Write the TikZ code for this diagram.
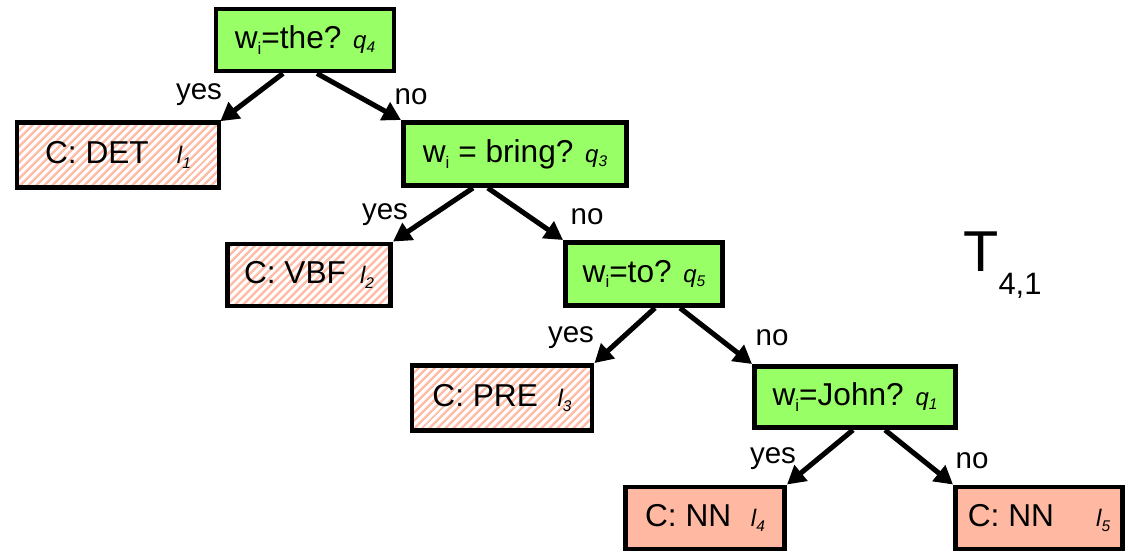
\documentclass[tikz,border=0pt]{standalone}
\usepackage{fontspec}
\setmainfont{Liberation Sans}
\usepackage{tikz}
\usetikzlibrary{positioning,calc}
\usetikzlibrary{arrows.meta,patterns.meta}

\definecolor{testgreen}{RGB}{153,255,102}
\definecolor{leafpink}{RGB}{255,184,162}
\definecolor{hatchpink}{RGB}{255,190,170}

\tikzset{
  test/.style={draw, line width=3.5pt, fill=testgreen, inner sep=0pt,
    font=\fontsize{22.5}{26}\selectfont},
  leaf/.style={draw, line width=3.5pt, inner sep=0pt,
    pattern={Lines[angle=45,distance=4pt,line width=1.8pt]}, pattern color=hatchpink,
    font=\fontsize{22.5}{26}\selectfont},
  leafnn/.style={draw, line width=3.5pt, fill=leafpink, inner sep=0pt,
    font=\fontsize{22.5}{26}\selectfont},
  branch/.style={line width=3.6pt, -{Triangle[length=13pt,width=14pt]}},
  answer/.style={font=\fontsize{21}{24}\selectfont}
}

\begin{document}
\begin{tikzpicture}[x=0.025cm, y=-0.025cm]
  \useasboundingbox (0,0) rectangle (1128,556);

  % small subscripts for the questions and the leaves
  \newcommand{\wsub}{w\raisebox{-0.35ex}{\fontsize{12}{12}\selectfont i}}
  \newcommand{\qsub}[1]{{\itshape\fontsize{17}{17}\selectfont q\raisebox{-0.35ex}{\fontsize{11}{11}\selectfont #1}}}
  \newcommand{\lsub}[1]{{\itshape\fontsize{17}{17}\selectfont l\raisebox{-0.35ex}{\fontsize{11}{11}\selectfont #1}}}

  % Questions
  \node[test, minimum width=4.45cm, minimum height=1.55cm] (q4) at (305,40) {\wsub=the? \qsub{4}};
  \node[test, minimum width=5.575cm, minimum height=1.575cm] (q3) at (515,154) {\wsub{} = bring? \qsub{3}};
  \node[test, minimum width=3.925cm, minimum height=1.575cm] (q5) at (644,274) {\wsub=to? \qsub{5}};
  \node[test, minimum width=5.025cm, minimum height=1.525cm] (q1) at (855,397) {\wsub=John? \qsub{1}};

  % Leaves
  \node[leaf, minimum width=5.05cm, minimum height=1.625cm] (l1) at (118,155) {C: DET\hspace{20pt}\lsub{1}};
  \node[leaf, minimum width=4.075cm, minimum height=1.55cm] (l2) at (309,275) {C: VBF\hspace{10pt}\lsub{2}};
  \node[leaf, minimum width=4.5cm, minimum height=1.625cm] (l3) at (502,398) {C: PRE\hspace{14pt}\lsub{3}};
  \node[leafnn, minimum width=3.975cm, minimum height=1.55cm] (l4) at (705,518) {C: NN\hspace{14pt}\lsub{4}};
  \node[leafnn, minimum width=4.175cm, minimum height=1.55cm] (l5) at (1039,518) {C: NN\hspace{30pt}\lsub{5}};

  % Branches
  \draw[branch] ([xshift=-0.55cm]q4.south) -- (l1.north east);
  \draw[branch] ([xshift=0.3cm]q4.south) -- (q3.north west);
  \draw[branch] ([xshift=-1.05cm]q3.south) -- (l2.north east);
  \draw[branch] ([xshift=-0.68cm]q3.south) -- (q5.north west);
  \draw[branch] ([xshift=0.275cm]q5.south) -- (l3.north east);
  \draw[branch] ([xshift=0.9cm]q5.south) -- (q1.north west);
  \draw[branch] ([xshift=-0.05cm]q1.south) -- (l4.north east);
  \draw[branch] ([xshift=0.75cm]q1.south) -- (l5.north west);

  % Labels
  \node[answer] (y1) at (199,95) {yes};
  \node[answer] (n1) at (411,97) {no};
  \node[answer] (y2) at (385,215) {yes};
  \node[answer] (n2) at (587,217) {no};
  \node[answer] (y3) at (571,338) {yes};
  \node[answer] (n3) at (772,338) {no};
  \node[answer] (y4) at (773,459) {yes};
  \node[answer] (n4) at (972,461) {no};

  % Tree name
  \node[anchor=base west, inner sep=0pt, font=\fontsize{41}{41}\selectfont] (tname) at (963,272)
    {T\raisebox{-16pt}{\fontsize{22}{22}\selectfont 4,1}};
\end{tikzpicture}
\end{document}
